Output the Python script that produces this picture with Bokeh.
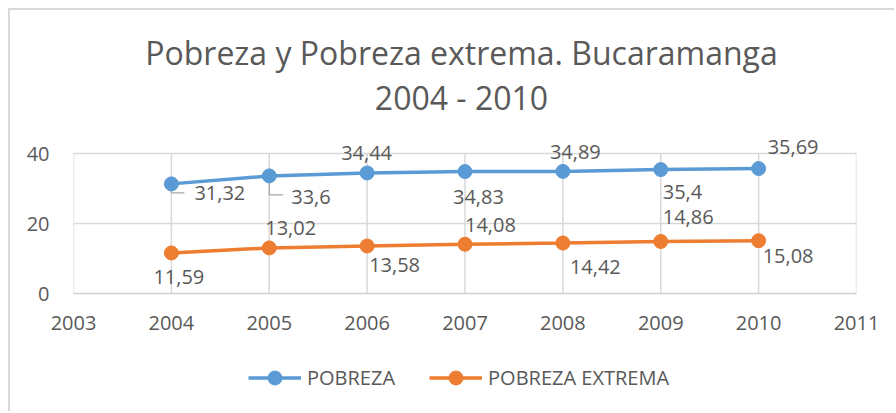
from bokeh.plotting import figure
from bokeh.layouts import column
from bokeh.models import (ColumnDataSource, LabelSet, Label, Legend, LegendItem,
                          Range1d, FixedTicker)
from bokeh.core.properties import value
from bokeh.embed import file_html
from bokeh.resources import INLINE

# ---- data ----
years = [2004, 2005, 2006, 2007, 2008, 2009, 2010]
pobreza = [31.32, 33.6, 34.44, 34.83, 34.89, 35.4, 35.69]
pobreza_extrema = [11.59, 13.02, 13.58, 14.08, 14.42, 14.86, 15.08]
pobreza_labels = ["31,32", "33,6", "34,44", "34,83", "34,89", "35,4", "35,69"]
extrema_labels = ["11,59", "13,02", "13,58", "14,08", "14,42", "14,86", "15,08"]
series_names = ["POBREZA", "POBREZA EXTREMA"]
x_ticks = [2003, 2004, 2005, 2006, 2007, 2008, 2009, 2010, 2011]
y_ticks = [0, 20, 40]
title_line1 = "Pobreza y Pobreza extrema. Bucaramanga"
title_line2 = "2004 - 2010"

# ---- styles / label placement (screen px) ----
BLUE = "#5B9BD5"
ORANGE = "#ED7D31"
TEXT = "#595959"
GRID = "#D9D9D9"
FONT = "Open Sans"

blue_dx = [23, 22, -26, -12, -13, 2, 9]
blue_dy = [-9, -21, 20, -25, 19, -22, 22]
orange_dx = [-18, -4, 2, 0, 7, 2, 4]
orange_dy = [-24, 20, -19, 19, -24, 24, -15]

ORIGIN = 10                     # canvas origin in page px (css margin + border)
W = 884
ML = 73 - ORIGIN
FW = 783                        # 2003..2011
MR = W - ML - FW
FH = 293 - ORIGIN               # frame from canvas top down to y = 0
PX_PER_Y = 3.5                  # 140 px for 0..40
MB = 50
H1 = FH + MB
H2 = 68

p = figure(width=W, height=H1, output_backend="svg", toolbar_location=None,
           x_range=Range1d(2003, 2011), y_range=Range1d(0, FH / PX_PER_Y),
           min_border_left=ML, min_border_right=MR, min_border_top=0,
           min_border_bottom=MB)
p.outline_line_color = None

p.xaxis.ticker = FixedTicker(ticks=x_ticks)
p.yaxis.ticker = FixedTicker(ticks=y_ticks)
for ax in (p.xaxis[0], p.yaxis[0]):
    ax.major_label_text_font = FONT
    ax.major_label_text_font_size = "20px"
    ax.major_label_text_color = TEXT
    ax.major_tick_line_color = None
    ax.minor_tick_line_color = None
p.xaxis.axis_line_color = "#D0D0D0"
p.xaxis.axis_line_width = 1.5
p.yaxis.axis_line_color = None
p.xaxis.major_label_standoff = 16
p.yaxis.major_label_standoff = 18
p.xgrid.grid_line_color = None
p.ygrid.ticker = FixedTicker(ticks=y_ticks)
p.ygrid.grid_line_color = GRID
p.ygrid.grid_line_width = 1.5

# vertical gridlines limited to the 0..40 value range
p.segment(x0=x_ticks, y0=[y_ticks[0]] * len(x_ticks), x1=x_ticks,
          y1=[y_ticks[-1]] * len(x_ticks), line_color=GRID, line_width=1.5)

# leader lines for first two blue labels
xs_per_px = (2011 - 2003) / FW
ys_per_px = 1 / PX_PER_Y
lead_v = [9, 19]
lead_h = [13, 14]
lx0, ly0, lx1, ly1 = [], [], [], []
for i in range(2):
    yb = pobreza[i] - lead_v[i] * ys_per_px
    lx0 += [years[i], years[i]]
    ly0 += [pobreza[i], yb]
    lx1 += [years[i], years[i] + lead_h[i] * xs_per_px]
    ly1 += [yb, yb]
p.segment(x0=lx0, y0=ly0, x1=lx1, y1=ly1, line_color="#A6A6A6", line_width=1.2)

p.line(years, pobreza, line_color=BLUE, line_width=3.5)
p.scatter(years, pobreza, size=14, fill_color=BLUE, line_color=BLUE)
p.line(years, pobreza_extrema, line_color=ORANGE, line_width=3.5)
p.scatter(years, pobreza_extrema, size=14, fill_color=ORANGE, line_color=ORANGE)

src1 = ColumnDataSource(dict(x=years, y=pobreza, t=pobreza_labels, dx=blue_dx, dy=blue_dy))
src2 = ColumnDataSource(dict(x=years, y=pobreza_extrema, t=extrema_labels, dx=orange_dx, dy=orange_dy))
for src in (src1, src2):
    p.add_layout(LabelSet(x="x", y="y", text="t", source=src, x_offset="dx", y_offset="dy",
                          text_align="left", text_baseline="middle",
                          text_font=value(FONT), text_font_size=value("20px"),
                          text_color=TEXT))

# title (screen units: from frame's bottom-left, y upward)
FRAME_BOTTOM_PAGE = 293
FRAME_LEFT_PAGE = 73
for txt, base_page in ((title_line1, 52), (title_line2, 97)):
    p.add_layout(Label(x=461 - FRAME_LEFT_PAGE, y=FRAME_BOTTOM_PAGE - base_page,
                       x_units="screen", y_units="screen", text=txt,
                       text_align="center", text_baseline="alphabetic",
                       text_font=FONT, text_font_size="32px", text_color=TEXT))

# ---- legend strip (second figure; its frame is aligned with the main one) ----
p2 = figure(width=W, height=H2, output_backend="svg", toolbar_location=None,
            x_axis_location=None, y_axis_location=None,
            x_range=Range1d(0, 1), y_range=Range1d(0, 1),
            min_border_left=0, min_border_right=0, min_border_top=0, min_border_bottom=0)
p2.outline_line_color = None
p2.xgrid.visible = False
p2.ygrid.visible = False
items = []
for name, col, vals in zip(series_names, (BLUE, ORANGE), (pobreza, pobreza_extrema)):
    # same series, outside this strip's ranges: only their legend swatches show
    lr = p2.line(years, vals, line_color=col, line_width=3.5)
    sr = p2.scatter(years, vals, size=14, fill_color=col, line_color=col)
    items.append(LegendItem(label=name, renderers=[lr, sr]))
legend = Legend(items=items, orientation="horizontal", location=(248 - FRAME_LEFT_PAGE, 16),
                glyph_width=53, glyph_height=35, label_standoff=6, spacing=34,
                padding=0, margin=0, border_line_color=None,
                background_fill_alpha=0,
                label_text_font=FONT, label_text_font_size="20px", label_text_color=TEXT)
p2.add_layout(legend, "center")

layout = column(p, p2, spacing=0)
layout.styles = {"margin-top": "8px", "margin-left": "8px",
                 "border-top": "2px solid #D9D9D9", "border-left": "2px solid #D9D9D9"}

open("out.html", "w").write(file_html(layout, INLINE))
